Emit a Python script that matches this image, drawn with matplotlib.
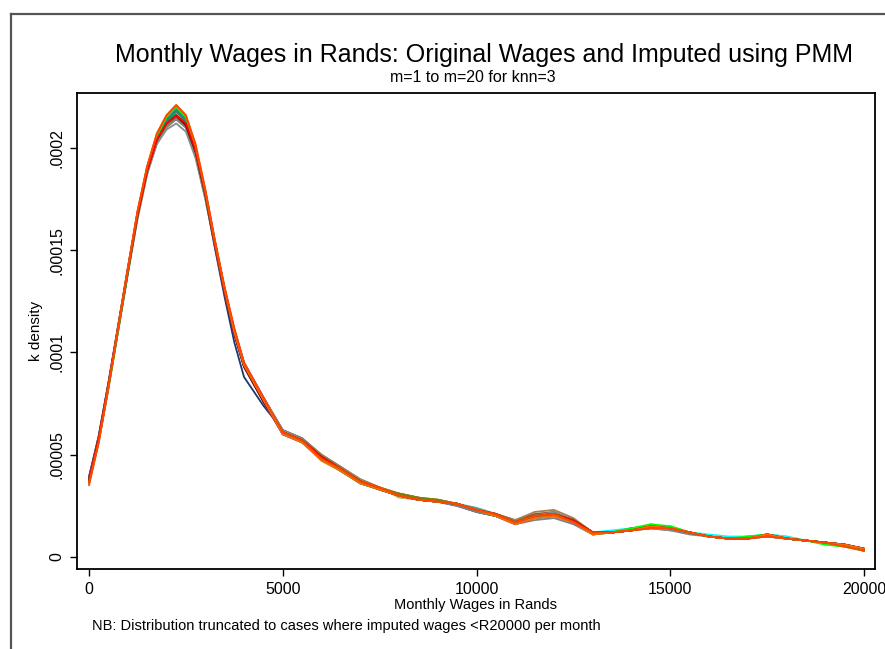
"""Kernel densities of monthly wages: original and PMM-imputed (m=1..20)."""

import matplotlib
matplotlib.use("Agg")
import matplotlib.pyplot as plt
import numpy as np
from matplotlib.lines import Line2D

plt.rcParams["font.family"] = ["Liberation Sans", "DejaVu Sans"]

# evaluation points of the density (Rands)
wage = [0, 250, 500, 750, 1000, 1250, 1500, 1750, 2000, 2250, 2500, 2750,
        3000, 3250, 3500, 3750, 4000, 4500, 5000, 5500, 6000, 6500, 7000,
        7500, 8000, 8500, 9000, 9500, 10000, 10500, 11000, 11500, 12000,
        12500, 13000, 13500, 14000, 14500, 15000, 15500, 16000, 16500,
        17000, 17500, 18000, 18500, 19000, 19500, 20000]

# density values in units of 1e-6, one list per curve
kd_orig = [39, 59, 85, 112, 140, 167, 189, 204, 212, 216, 211, 197, 176, 151, 127, 105, 88, 74, 62, 57, 49, 43, 36, 33, 30, 28, 27, 26, 23, 20, 17, 20, 21, 18, 12, 12, 13, 15, 14, 12, 10, 9, 9, 11, 9, 8, 7, 6, 4]
kd_m01 = [38, 58, 84, 112, 140, 168, 190, 205, 213, 218, 213, 199, 178, 153, 130, 110, 94, 77, 61, 57, 48, 43, 37, 33, 30, 28, 27, 26, 23, 21, 17, 19, 20, 17, 11, 12, 14, 15, 14, 12, 10, 9, 9, 11, 9, 8, 7, 6, 4]
kd_m02 = [36, 57, 83, 111, 139, 167, 190, 206, 215, 220, 215, 200, 179, 154, 131, 111, 95, 76, 60, 56, 48, 42, 37, 34, 29, 28, 27, 26, 22, 20, 16, 20, 21, 17, 11, 12, 13, 16, 14, 12, 10, 9, 9, 11, 10, 8, 7, 6, 4]
kd_m03 = [37, 58, 84, 112, 140, 168, 190, 206, 214, 219, 214, 200, 178, 153, 130, 110, 94, 77, 61, 57, 49, 43, 37, 33, 30, 28, 27, 26, 23, 21, 17, 20, 21, 18, 12, 12, 13, 15, 14, 12, 10, 9, 9, 11, 9, 8, 7, 6, 4]
kd_m04 = [38, 58, 84, 111, 139, 166, 188, 203, 211, 215, 211, 198, 177, 153, 130, 110, 94, 78, 62, 58, 50, 44, 37, 33, 30, 28, 28, 26, 23, 21, 18, 21, 22, 18, 12, 12, 13, 15, 14, 12, 10, 9, 9, 10, 9, 8, 7, 6, 4]
kd_m05 = [39, 59, 85, 113, 141, 168, 190, 205, 213, 217, 212, 198, 177, 152, 129, 109, 93, 76, 60, 56, 48, 42, 36, 33, 31, 29, 27, 25, 22, 20, 16, 19, 20, 17, 12, 12, 14, 15, 14, 12, 10, 9, 9, 11, 9, 8, 7, 6, 4]
kd_m06 = [37, 57, 83, 111, 139, 167, 189, 204, 212, 216, 212, 199, 178, 154, 131, 111, 95, 78, 61, 57, 49, 44, 38, 34, 30, 28, 27, 26, 24, 21, 17, 20, 21, 18, 12, 12, 13, 14, 14, 12, 10, 9, 9, 11, 9, 8, 7, 6, 4]
kd_m07 = [36, 56, 82, 110, 138, 165, 187, 202, 210, 214, 210, 197, 177, 153, 131, 111, 95, 78, 62, 58, 50, 44, 38, 34, 31, 29, 28, 26, 23, 21, 18, 22, 23, 19, 12, 12, 13, 15, 15, 12, 10, 9, 10, 10, 9, 8, 7, 6, 3]
kd_m08 = [38, 58, 84, 112, 140, 168, 190, 205, 213, 217, 213, 199, 178, 153, 130, 110, 94, 77, 61, 57, 48, 42, 36, 33, 30, 28, 27, 26, 23, 21, 17, 19, 20, 17, 12, 13, 14, 15, 14, 12, 11, 10, 10, 11, 10, 8, 7, 6, 4]
kd_m09 = [37, 58, 84, 112, 140, 167, 189, 204, 212, 216, 212, 199, 178, 154, 131, 111, 95, 78, 61, 56, 48, 43, 37, 33, 30, 28, 27, 26, 23, 20, 17, 20, 21, 18, 12, 12, 13, 15, 14, 12, 10, 9, 9, 11, 9, 8, 7, 6, 4]
kd_m10 = [38, 59, 85, 113, 141, 168, 189, 203, 211, 214, 210, 196, 176, 152, 129, 109, 93, 77, 62, 58, 49, 43, 37, 33, 30, 28, 27, 25, 22, 20, 16, 18, 19, 16, 11, 12, 13, 14, 13, 11, 10, 9, 9, 10, 9, 8, 7, 6, 4]
kd_m11 = [37, 57, 83, 111, 139, 167, 189, 205, 213, 218, 214, 200, 179, 154, 131, 110, 94, 77, 61, 57, 49, 43, 37, 33, 30, 28, 27, 26, 23, 21, 17, 20, 21, 18, 12, 12, 13, 15, 14, 12, 10, 9, 9, 11, 9, 8, 7, 6, 3]
kd_m12 = [36, 57, 83, 111, 139, 166, 188, 202, 209, 212, 208, 195, 175, 152, 130, 110, 95, 78, 62, 57, 49, 43, 37, 33, 30, 28, 27, 26, 23, 20, 17, 20, 22, 18, 12, 12, 13, 14, 13, 12, 10, 9, 9, 10, 9, 8, 7, 6, 3]
kd_m13 = [38, 58, 84, 112, 140, 168, 190, 206, 214, 219, 214, 200, 179, 154, 131, 111, 94, 77, 60, 56, 48, 42, 36, 33, 30, 28, 27, 26, 23, 21, 17, 20, 21, 17, 12, 12, 13, 15, 14, 12, 10, 9, 9, 11, 9, 8, 7, 6, 4]
kd_m14 = [37, 58, 84, 112, 140, 167, 189, 204, 212, 216, 212, 198, 177, 153, 130, 110, 94, 77, 61, 57, 48, 43, 37, 34, 31, 29, 28, 26, 23, 21, 17, 20, 21, 18, 12, 12, 14, 15, 14, 12, 10, 9, 9, 11, 9, 8, 7, 6, 4]
kd_m15 = [38, 58, 84, 112, 140, 167, 189, 204, 212, 216, 211, 198, 177, 152, 129, 109, 93, 76, 61, 57, 49, 43, 37, 33, 30, 28, 27, 26, 23, 20, 17, 20, 21, 18, 12, 12, 13, 15, 14, 12, 10, 9, 9, 11, 9, 8, 7, 6, 4]
kd_m16 = [37, 57, 83, 111, 139, 167, 190, 205, 213, 218, 213, 199, 178, 153, 130, 110, 94, 77, 61, 57, 49, 43, 37, 33, 30, 28, 27, 26, 23, 21, 17, 20, 21, 18, 12, 12, 13, 15, 14, 12, 10, 9, 9, 11, 9, 8, 7, 6, 4]
kd_m17 = [36, 57, 83, 111, 140, 168, 191, 206, 215, 220, 215, 201, 179, 154, 131, 111, 94, 77, 61, 56, 48, 42, 36, 33, 30, 28, 27, 26, 23, 20, 17, 20, 21, 18, 11, 12, 14, 16, 15, 12, 10, 9, 10, 11, 9, 8, 6, 5, 3]
kd_m18 = [37, 58, 84, 112, 140, 167, 189, 204, 212, 216, 212, 199, 178, 153, 130, 110, 94, 77, 61, 57, 49, 43, 37, 33, 30, 28, 27, 26, 23, 21, 17, 20, 21, 18, 12, 12, 13, 15, 14, 12, 10, 9, 9, 11, 9, 8, 7, 6, 4]
kd_m19 = [36, 56, 83, 112, 141, 169, 191, 207, 216, 221, 216, 201, 179, 154, 131, 110, 94, 77, 60, 56, 47, 42, 36, 33, 30, 28, 27, 26, 23, 20, 16, 19, 20, 17, 11, 12, 13, 15, 14, 12, 10, 9, 9, 11, 9, 8, 7, 6, 4]
kd_m20 = [35, 56, 83, 112, 141, 169, 191, 207, 216, 221, 216, 202, 180, 155, 132, 112, 95, 78, 61, 57, 48, 43, 37, 34, 30, 28, 27, 26, 23, 21, 17, 20, 21, 17, 12, 12, 13, 14, 14, 12, 10, 9, 9, 10, 9, 8, 7, 5, 3]

curves = [kd_orig, kd_m01, kd_m02, kd_m03, kd_m04, kd_m05, kd_m06, kd_m07,
          kd_m08, kd_m09, kd_m10, kd_m11, kd_m12, kd_m13, kd_m14, kd_m15,
          kd_m16, kd_m17, kd_m18, kd_m19, kd_m20]
colors = ["#1a3a6e", "slategray", "darkkhaki", "teal", "sienna", "purple",
          "cadetblue", "#a08050", "cyan", "magenta", "gray", "darkgreen",
          "#7f8f8f", "royalblue", "olive", "maroon", "#2e8b57", "lime",
          "red", "#ff6a00", "#ff4500"]

xticks = [0, 5000, 10000, 15000, 20000]
yticks = [0, 0.00005, 0.0001, 0.00015, 0.0002]
ytick_labels = ["0", ".00005", ".0001", ".00015", ".0002"]

W, H = 885, 649
fig = plt.figure(figsize=(W / 100, H / 100), dpi=100)
ax = fig.add_axes([77 / W, 1 - 569 / H, (875 - 77) / W, (569 - 93) / H])

x = np.array(wage)
for kd, c in zip(curves, colors):
    ax.plot(x, np.array(kd) * 1e-6, color=c, lw=1.3,
            solid_joinstyle="round", solid_capstyle="round")

ax.set_xlim(-310, 20284)
ax.set_ylim(-5.9e-6, 2.269e-4)
ax.set_xticks(xticks)
ax.set_xticklabels([str(t) for t in xticks])
ax.set_yticks(yticks)
ax.set_yticklabels(ytick_labels, rotation=90, va="center")
ax.tick_params(direction="out", length=5, width=1, labelsize=11.5, pad=4)
for s in ax.spines.values():
    s.set_linewidth(1.3)
ax.set_xlabel("Monthly Wages in Rands", fontsize=10.5, labelpad=1)
ax.set_ylabel("k density", fontsize=11, labelpad=5)

fig.text(484 / W, 1 - 55 / H, "Monthly Wages in Rands: Original Wages and Imputed using PMM",
         ha="center", va="center", fontsize=18)
fig.text(473 / W, 1 - 78 / H, "m=1 to m=20 for knn=3", ha="center", va="center", fontsize=11.5)
fig.text(92 / W, 1 - 626 / H, "NB: Distribution truncated to cases where imputed wages <R20000 per month",
         ha="left", va="center", fontsize=10.5)

# outer graph border, running off the right and bottom edges
fig.add_artist(Line2D([11 / W, 1.0], [1 - 14 / H, 1 - 14 / H], color="#555555", lw=1.6))
fig.add_artist(Line2D([11 / W, 11 / W], [1 - 14 / H, 0.0], color="#555555", lw=1.6))

fig.savefig("out.png", dpi=100)
